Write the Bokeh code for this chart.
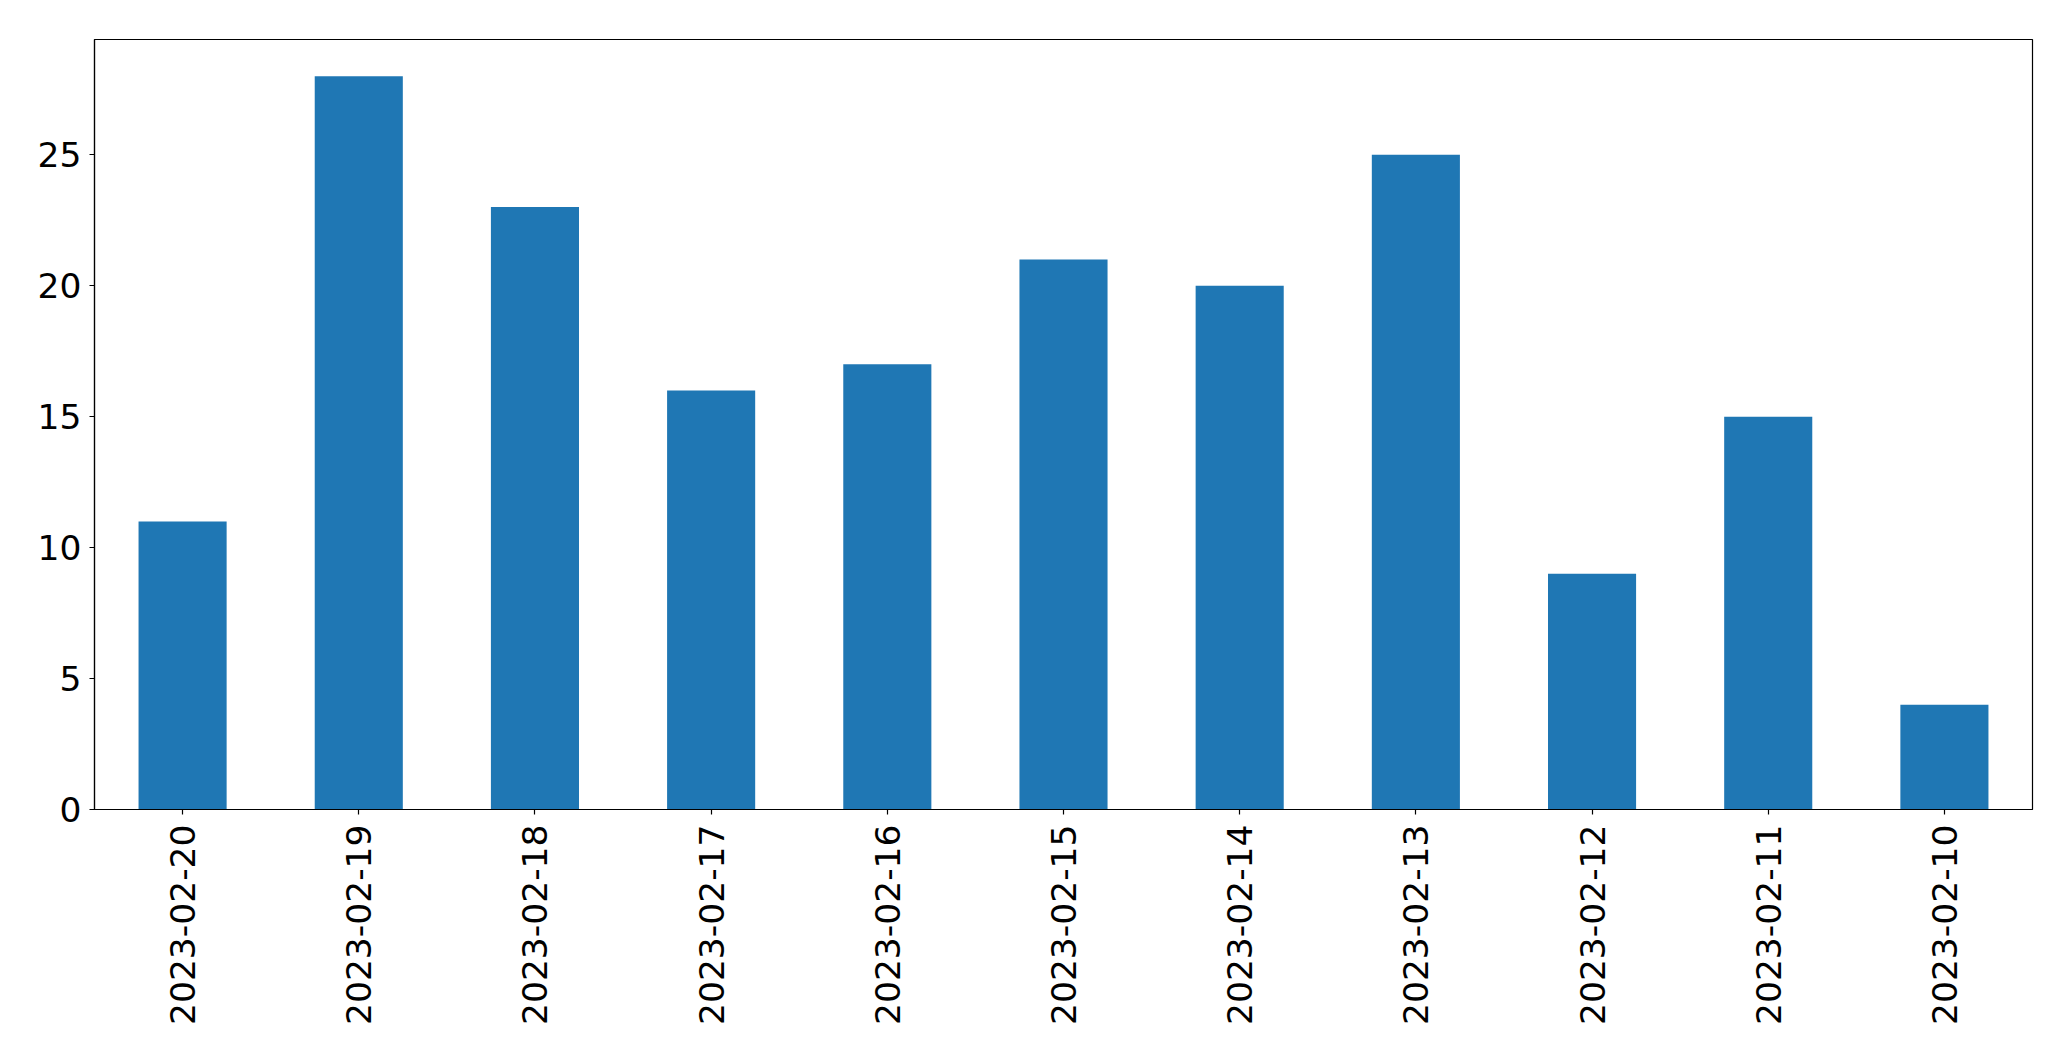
from math import pi
from bokeh.plotting import figure
from bokeh.models import FactorRange, Range1d, FixedTicker
from bokeh.embed import file_html
from bokeh.resources import INLINE

dates = ["2023-02-20", "2023-02-19", "2023-02-18", "2023-02-17", "2023-02-16",
         "2023-02-15", "2023-02-14", "2023-02-13", "2023-02-12", "2023-02-11",
         "2023-02-10"]
counts = [11, 28, 23, 16, 17, 21, 20, 25, 9, 15, 4]
y_ticks = [0, 5, 10, 15, 20, 25]

p = figure(width=2071, height=1061, output_backend="svg", toolbar_location=None,
           x_range=FactorRange(factors=dates, range_padding=0, factor_padding=0),
           y_range=Range1d(0, max(counts) * 1.05),
           min_border_left=94, min_border_right=39, min_border_top=39, min_border_bottom=252)

p.vbar(x=dates, top=counts, width=0.5, color="#1f77b4", line_color=None)

p.xgrid.visible = False
p.ygrid.visible = False
p.outline_line_color = "black"
p.outline_line_width = 1.2
p.background_fill_color = "white"
p.border_fill_color = "white"

p.yaxis.ticker = FixedTicker(ticks=y_ticks)
p.yaxis.minor_tick_line_color = None
for ax in (p.xaxis[0], p.yaxis[0]):
    ax.axis_line_color = "black"
    ax.axis_line_width = 1.2
    ax.major_tick_line_color = "black"
    ax.major_tick_line_width = 1.2
    ax.major_tick_out = 5
    ax.major_tick_in = 0
    ax.major_label_text_font = "DejaVu Sans"
    ax.major_label_text_font_size = "34.5px"
    ax.major_label_text_color = "black"

p.yaxis.major_label_standoff = 8
p.xaxis.major_label_standoff = 10
p.xaxis.major_label_orientation = pi / 2

open("out.html", "w").write(file_html(p, INLINE))
